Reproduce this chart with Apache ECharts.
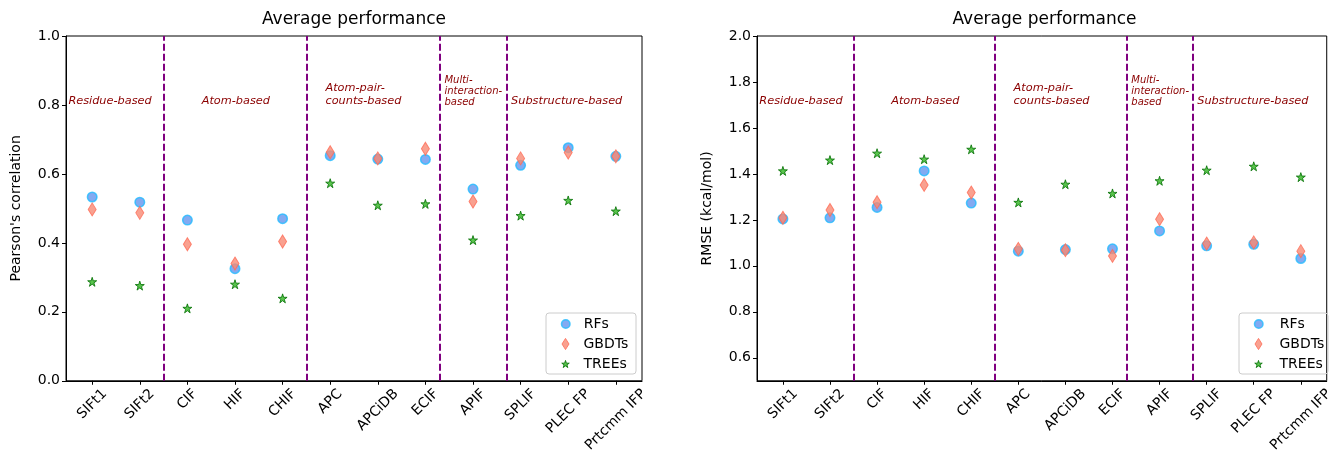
<!DOCTYPE html>
<html>
<head>
<meta charset="utf-8">
<script src="https://cdn.jsdelivr.net/npm/echarts@6/dist/echarts.min.js"></script>
<style>html,body{margin:0;padding:0;background:#fff}#c{width:1336px;height:455px}</style>
</head>
<body>
<div id="c"></div>
<script>
// ---- data ----
const categories = ['SIFt1','SIFt2','CIF','HIF','CHIF','APC','APCiDB','ECIF','APIF','SPLIF','PLEC FP','Prtcmm IFP'];
const pearsonRF   = [0.533,0.518,0.466,0.325,0.470,0.653,0.643,0.642,0.556,0.625,0.676,0.651];
const pearsonGBDT = [0.497,0.487,0.396,0.340,0.404,0.663,0.645,0.673,0.520,0.645,0.662,0.651];
const pearsonTREE = [0.287,0.276,0.210,0.280,0.239,0.573,0.509,0.513,0.408,0.479,0.523,0.492];
const rmseRF   = [1.204,1.209,1.254,1.413,1.273,1.064,1.071,1.074,1.152,1.087,1.094,1.032];
const rmseGBDT = [1.209,1.243,1.277,1.352,1.319,1.074,1.068,1.043,1.203,1.097,1.102,1.064];
const rmseTREE = [1.413,1.460,1.490,1.464,1.507,1.276,1.355,1.315,1.370,1.416,1.433,1.386];
const dividers = [1.5, 4.5, 7.3, 8.7];
const groupLabels = ['Residue-based','Atom-based','Atom-pair-\ncounts-based','Multi-\ninteraction-\nbased','Substructure-based'];
const groupLabelX = [-0.5, 2.3, 4.9, 7.4, 8.8];
const groupLabelSmall = [false,false,false,true,false];
const pearsonTicks = [0.0,0.2,0.4,0.6,0.8,1.0];
const rmseTicks = [0.6,0.8,1.0,1.2,1.4,1.6,1.8,2.0];
const seriesNames = ['RFs','GBDTs','TREEs'];

const FONT = 'DejaVu Sans';
const STAR = 'path://M0,-10 L2.245,-3.09 L9.51,-3.09 L3.633,1.18 L5.88,8.09 L0,3.82 L-5.88,8.09 L-3.633,1.18 L-9.51,-3.09 L-2.245,-3.09 Z';
const DIAMOND = 'path://M5,0 L10,8 L5,16 L0,8 Z';
const styles = [
  {symbol:'circle', size:9.5, itemStyle:{color:'#6495ED', borderColor:'#22bbff', borderWidth:1.5}},
  {symbol:DIAMOND, size:[8,13], itemStyle:{color:'#F88A74', borderColor:'#ff6a55', borderWidth:1}},
  {symbol:STAR, size:9, itemStyle:{color:'#2fb51f', borderColor:'#006e00', borderWidth:1}}
];
const legendIconSize = [[8.5,8.5],[7,12.5],[7.5,7.5]];

// measure tick label widths so rotated labels can be centred under their ticks (like matplotlib)
const LABEL_FS = 14;
const mctx = document.createElement('canvas').getContext('2d');
mctx.font = LABEL_FS + 'px "' + FONT + '"';
const rich = {};
categories.forEach((c,k)=>{
  const L = mctx.measureText(c).width;
  const p = (L + LABEL_FS) / 2;
  rich['c'+k] = {fontSize:LABEL_FS, fontFamily:FONT, color:'#000', padding:[p, p, 0, 0]};
});

const grids = [
  {left:66, top:36, width:576, height:345},
  {left:757, top:36, width:575, height:345}
];

function xAxisFor(i){
  const ticks = categories.map((c,k)=>k);
  return {
    type:'value', gridIndex:i, min:-0.55, max:11.55,
    axisLine:{show:true, onZero:false, lineStyle:{color:'#000', width:1}},
    axisTick:{show:true, customValues:ticks, length:4, lineStyle:{color:'#000'}},
    axisLabel:{customValues:ticks, rotate:45, margin:6, verticalAlign:'middle', align:'center',
      fontSize:LABEL_FS, fontFamily:FONT, color:'#000', rich:rich,
      formatter:v=>{const k=Math.round(v); return '{c'+k+'|'+categories[k]+'}';}},
    splitLine:{show:false}
  };
}

const yAxes = [
  {type:'value', gridIndex:0, min:0, max:1, interval:0.2, name:"Pearson's correlation",
   nameLocation:'middle', nameGap:43, nameTextStyle:{fontSize:14, fontFamily:FONT, color:'#000'},
   axisLine:{show:true, onZero:false, lineStyle:{color:'#000'}}, axisTick:{show:true,length:4,lineStyle:{color:'#000'}},
   axisLabel:{fontSize:14, fontFamily:FONT, color:'#000', margin:6, formatter:v=>v.toFixed(1)},
   splitLine:{show:false}},
  {type:'value', gridIndex:1, min:0.5, max:2.0, name:'RMSE (kcal/mol)',
   nameLocation:'middle', nameGap:43, nameTextStyle:{fontSize:14, fontFamily:FONT, color:'#000'},
   axisLine:{show:true, onZero:false, lineStyle:{color:'#000'}},
   axisTick:{show:true, customValues:rmseTicks, length:4, lineStyle:{color:'#000'}},
   axisLabel:{customValues:rmseTicks, fontSize:14, fontFamily:FONT, color:'#000', margin:6, formatter:v=>v.toFixed(1)},
   splitLine:{show:false}}
];

function buildSeries(gi, arrs, labelY){
  return arrs.map((arr, si)=>{
    const s = {
      type:'scatter', name:seriesNames[si], xAxisIndex:gi, yAxisIndex:gi,
      symbol:styles[si].symbol, symbolSize:styles[si].size, itemStyle:styles[si].itemStyle,
      data: arr.map((v,k)=>[k, v]), z: 3+si, silent:true
    };
    if (si === 0) {
      s.markLine = {
        silent:true, symbol:['none','none'], animation:false,
        label:{show:false},
        lineStyle:{color:'#800080', type:[7,3], width:2},
        data: dividers.map(d=>({xAxis:d}))
      };
      s.markPoint = {
        silent:true, animation:false, symbol:'circle', symbolSize:0,
        data: groupLabels.map((t,k)=>({
          coord:[groupLabelX[k], labelY], value:t,
          label:{show:true, formatter:t, position:[0,0], align:'left', verticalAlign:'bottom',
            offset:[0,3],
            fontStyle:'italic', fontFamily:FONT, color:'#8b0000',
            fontSize: groupLabelSmall[k] ? 10 : 11.3,
            lineHeight: groupLabelSmall[k] ? 11 : 13}
        }))
      };
    }
    return s;
  });
}

const series = [
  ...buildSeries(0, [pearsonRF, pearsonGBDT, pearsonTREE], 0.8),
  ...buildSeries(1, [rmseRF, rmseGBDT, rmseTREE], 1.7)
];

const legendRowCenter = [324, 344, 364];
const legendIconX = [565, 1258];
const legendTextX = [583, 1279];
const legends = [];
legendIconX.forEach((cx, li)=>{
  seriesNames.forEach((n,k)=>{
    const [w,h] = legendIconSize[k];
    const left = cx - w/2;
    legends.push({
      data:[{name:n, icon:styles[k].symbol}], orient:'vertical', left:left, top:legendRowCenter[k]-8, padding:0,
      itemWidth:w, itemHeight:h, selectedMode:false,
      itemStyle:{borderWidth: styles[k].itemStyle.borderWidth},
      textStyle:{fontSize:14, fontFamily:FONT, color:'#000', lineHeight:16,
        padding:[0,0,0, Math.max(0, legendTextX[li] - (left + w + 5))]}
    });
  });
});

const option = {
  animation:false,
  backgroundColor:'#fff',
  title:[
    {text:'Average performance', left:354, top:11, textAlign:'center', padding:0,
     textStyle:{fontSize:17, fontWeight:'normal', fontFamily:FONT, color:'#000'}},
    {text:'Average performance', left:1044.5, top:11, textAlign:'center', padding:0,
     textStyle:{fontSize:17, fontWeight:'normal', fontFamily:FONT, color:'#000'}}
  ],
  grid: grids.map(g=>Object.assign({show:true, borderColor:'#000', borderWidth:1, containLabel:false}, g)),
  xAxis:[xAxisFor(0), xAxisFor(1)],
  yAxis:yAxes,
  legend:legends,
  graphic:[
    {type:'rect', z:0, shape:{x:546, y:313, width:90, height:61, r:3}, style:{fill:'rgba(255,255,255,0)', stroke:'#cccccc', lineWidth:1}, silent:true},
    {type:'rect', z:0, shape:{x:1239, y:313, width:89, height:61, r:3}, style:{fill:'rgba(255,255,255,0)', stroke:'#cccccc', lineWidth:1}, silent:true}
  ],
  series
};
const chart = echarts.init(document.getElementById('c'), null, {renderer:'canvas'});
chart.setOption(option);
</script>
</body>
</html>
